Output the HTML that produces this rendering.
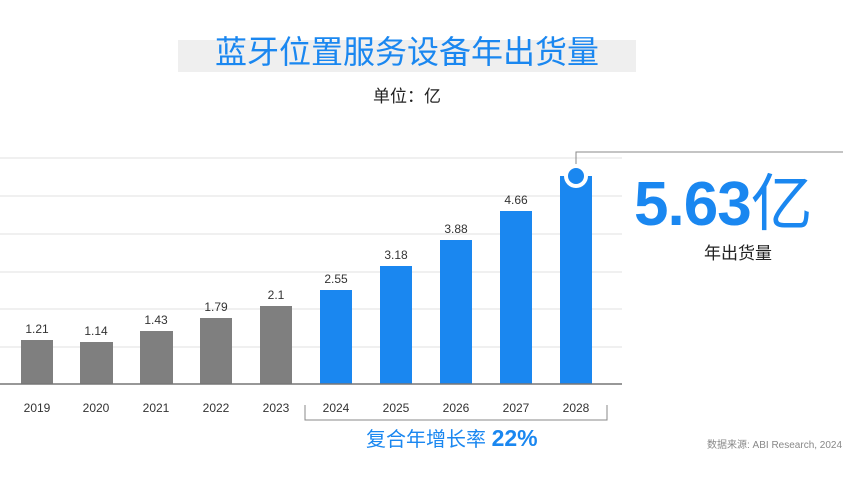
<!DOCTYPE html>
<html><head><meta charset="utf-8"><style>
body{margin:0;background:#fff;width:857px;height:478px;overflow:hidden;position:relative;font-family:"Liberation Sans","Noto Sans CJK SC",sans-serif}
.a{position:absolute}
</style></head><body>
<div class="a" style="left:178px;top:40px;width:458px;height:32px;background:#efefef"></div>
<div class="a" style="left:160px;top:32px;width:494px;text-align:center;font-size:32px;color:#1a87f0;line-height:40px">蓝牙位置服务设备年出货量</div>
<div class="a" style="left:300px;top:84px;width:214px;text-align:center;font-size:17px;color:#222;line-height:26px">单位：亿</div>
<svg class="a" style="left:0;top:0" width="857" height="478">
<g stroke="#e6e6e6" stroke-width="1.2">
<line x1="0" x2="622" y1="158" y2="158"/><line x1="0" x2="622" y1="196" y2="196"/><line x1="0" x2="622" y1="234" y2="234"/><line x1="0" x2="622" y1="272" y2="272"/><line x1="0" x2="622" y1="309" y2="309"/><line x1="0" x2="622" y1="347" y2="347"/></g>
<g fill="#7f7f7f">
<rect x="21" y="340" width="32" height="44"/><rect x="80" y="342" width="33" height="42"/><rect x="140" y="331" width="33" height="53"/><rect x="200" y="318" width="32" height="66"/><rect x="260" y="306" width="32" height="78"/></g>
<g fill="#1a87f0">
<rect x="320" y="290" width="32" height="94"/><rect x="380" y="266" width="32" height="118"/><rect x="440" y="240" width="32" height="144"/><rect x="500" y="211" width="32" height="173"/><rect x="560" y="176" width="32" height="208"/></g>
<line x1="0" x2="622" y1="384" y2="384" stroke="#777" stroke-width="1.5"/>
<polyline points="576,170 576,152 843,152" fill="none" stroke="#888" stroke-width="1"/>
<circle cx="576" cy="176" r="12" fill="#fff"/><circle cx="576" cy="176" r="8" fill="#1a87f0"/>
<polyline points="305,405 305,420 607,420 607,405" fill="none" stroke="#888" stroke-width="1"/>
<g font-size="12" fill="#333" text-anchor="middle" font-family="Liberation Sans,sans-serif">
<text x="37" y="333">1.21</text><text x="96" y="335">1.14</text><text x="156" y="324">1.43</text><text x="216" y="311">1.79</text><text x="276" y="299">2.1</text>
<text x="336" y="283">2.55</text><text x="396" y="259">3.18</text><text x="456" y="233">3.88</text><text x="516" y="204">4.66</text>
<text x="37" y="412">2019</text><text x="96" y="412">2020</text><text x="156" y="412">2021</text><text x="216" y="412">2022</text><text x="276" y="412">2023</text><text x="336" y="412">2024</text><text x="396" y="412">2025</text><text x="456" y="412">2026</text><text x="516" y="412">2027</text><text x="576" y="412">2028</text></g>
</svg>
<div class="a" style="left:634px;top:170px;font-size:62px;font-weight:bold;color:#1a87f0;line-height:70px;letter-spacing:-1px">5.63<span style="font-weight:normal">亿</span></div>
<div class="a" style="left:704px;top:242px;font-size:17px;color:#222;line-height:24px">年出货量</div>
<div class="a" style="left:366px;top:424px;font-size:20px;color:#1a87f0;line-height:28px">复合年增长率 <b style="font-size:23px">22%</b></div>
<div class="a" style="left:707px;top:439px;font-size:10px;color:#888;line-height:14px">数据来源: ABI Research, 2024</div>
</body></html>
